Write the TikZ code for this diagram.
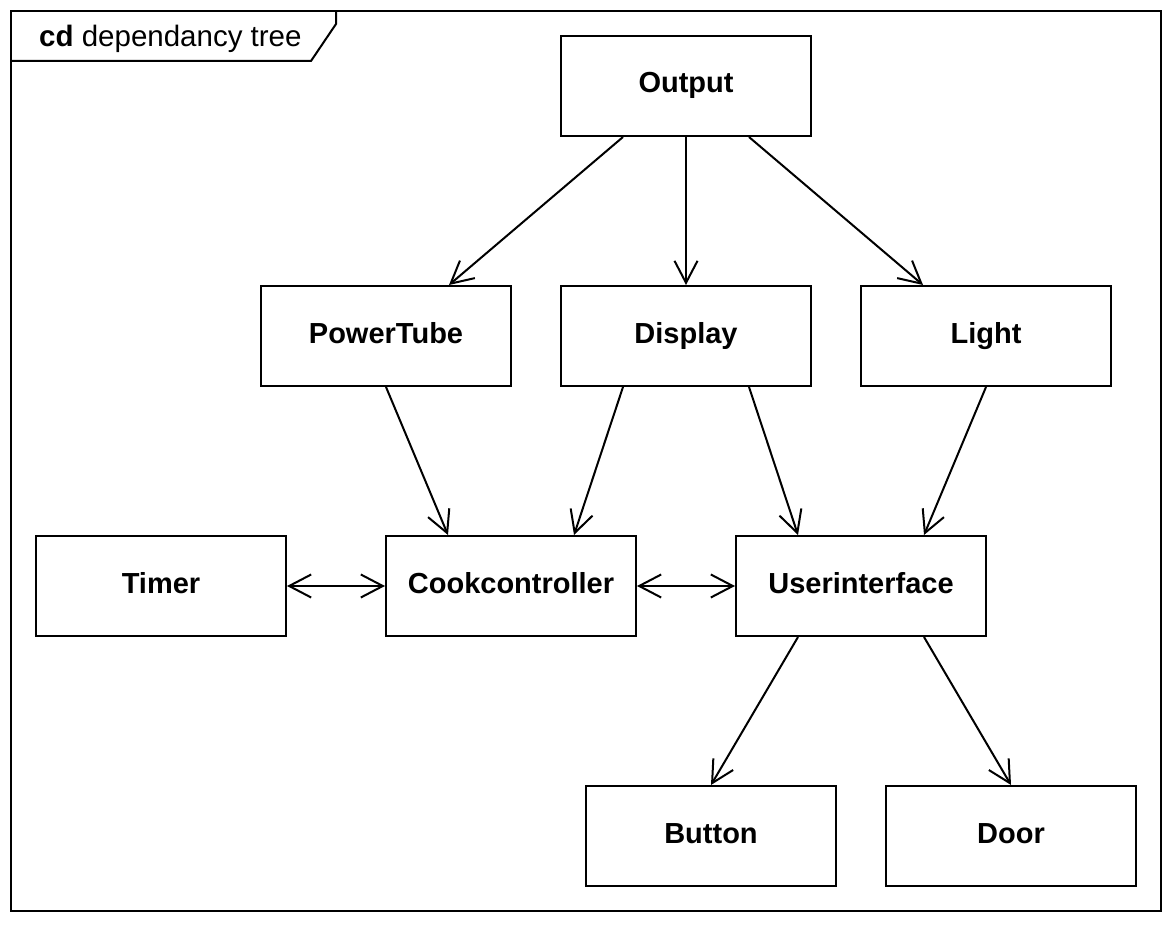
\documentclass[tikz,border=0pt]{standalone}
\usepackage{fontspec}
\setmainfont{Liberation Sans}
\usetikzlibrary{arrows.meta,calc}
\tikzset{
  box/.style={draw, line width=2pt, minimum width=250pt, minimum height=100pt, inner sep=0pt,
    text height=21pt, text depth=7pt,
    font=\bfseries\fontsize{29}{34}\selectfont},
  dep/.style={line width=2pt, -{Straight Barb[length=22pt,width=23pt]}},
  bidir/.style={line width=2pt, {Straight Barb[length=22pt,width=23pt]}-{Straight Barb[length=22pt,width=23pt]}},
}
\begin{document}
\begin{tikzpicture}[x=1pt,y=-1pt]
\fill[white] (0,0) rectangle (1175,925);
\useasboundingbox (0,0) rectangle (1175,925);
% frame
\draw[line width=2pt] (11,11) rectangle (1161,911);
\draw[line width=2pt, line join=miter] (11,61) -- (311,61) -- (336,24) -- (336,11);
\node[anchor=base west, inner sep=0pt, font=\fontsize{29.5}{34}\selectfont] (title) at (39,47) {\textbf{cd} dependancy tree};
% boxes
\node[box] (out)   at (686,86)  {Output};
\node[box] (pt)    at (386,336) {PowerTube};
\node[box] (disp)  at (686,336) {Display};
\node[box] (light) at (986,336) {Light};
\node[box] (timer) at (161,586) {Timer};
\node[box] (cook)  at (511,586) {Cookcontroller};
\node[box] (ui)    at (861,586) {Userinterface};
\node[box] (btn)   at (711,836) {Button};
\node[box] (door)  at (1011,836) {Door};
% arrows
\draw[dep] ($(out.south west)!0.25!(out.south east)$) -- ($(pt.north west)!0.75!(pt.north east)$);
\draw[dep] (out.south) -- (disp.north);
\draw[dep] ($(out.south west)!0.75!(out.south east)$) -- ($(light.north west)!0.25!(light.north east)$);
\draw[dep] (pt.south) -- ($(cook.north west)!0.25!(cook.north east)$);
\draw[dep] ($(disp.south west)!0.25!(disp.south east)$) -- ($(cook.north west)!0.75!(cook.north east)$);
\draw[dep] ($(disp.south west)!0.75!(disp.south east)$) -- ($(ui.north west)!0.25!(ui.north east)$);
\draw[dep] (light.south) -- ($(ui.north west)!0.75!(ui.north east)$);
\draw[bidir] (timer.east) -- (cook.west);
\draw[bidir] (cook.east) -- (ui.west);
\draw[dep] ($(ui.south west)!0.25!(ui.south east)$) -- (btn.north);
\draw[dep] ($(ui.south west)!0.75!(ui.south east)$) -- (door.north);
\end{tikzpicture}
\end{document}
